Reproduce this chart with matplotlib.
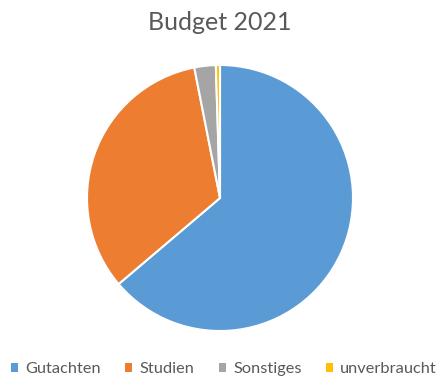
import matplotlib
matplotlib.use("Agg")
import matplotlib.pyplot as plt

# budget shares in percent
labels = ["Gutachten", "Studien", "Sonstiges", "unverbraucht"]
shares = [63.8, 33.1, 2.6, 0.5]
colors = ["#5B9BD5", "#ED7D31", "#A5A5A5", "#FFC000"]

plt.rcParams["font.family"] = ["Lato", "DejaVu Sans"]

W, H = 438, 378
fig = plt.figure(figsize=(W / 100, H / 100), dpi=100)

cx, cy, r = 220, 198, 133
ax = fig.add_axes([(cx - r) / W, (H - cy - r) / H, 2 * r / W, 2 * r / H])
wedges, _ = ax.pie(shares, colors=colors, startangle=90, counterclock=False,
                   radius=1, wedgeprops=dict(edgecolor="white", linewidth=1.5))
ax.set_xlim(-1, 1)
ax.set_ylim(-1, 1)
ax.set_aspect("equal")
ax.axis("off")

fig.text(cx / W, 1 - 22 / H, "Budget 2021", ha="center", va="center",
         fontsize=18, color="#595959")

fig.legend(wedges, labels, loc="center", bbox_to_anchor=(224 / W, 1 - 369 / H),
           ncol=4, frameon=False, fontsize=11.8, labelcolor="#595959",
           handlelength=0.45, handleheight=0.45, handletextpad=0.45,
           columnspacing=1.45)
for h in fig.legends[0].legend_handles:
    h.set_edgecolor("none")

fig.savefig("out.png", dpi=100)
